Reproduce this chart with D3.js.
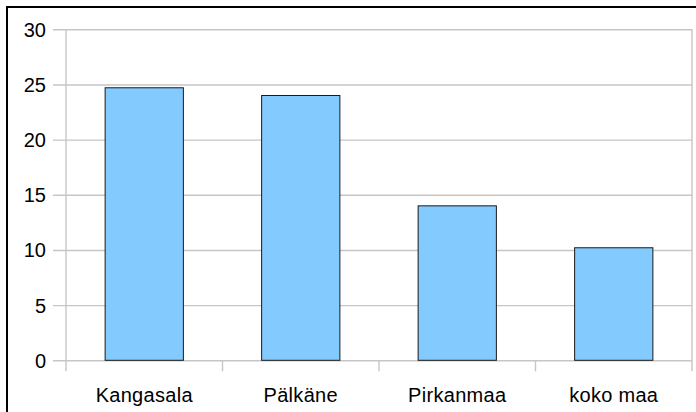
<!DOCTYPE html>
<html>
<head>
<meta charset="utf-8">
<script src="https://cdn.jsdelivr.net/npm/d3@7"></script>
<style>
  html, body { margin: 0; padding: 0; background: #fff; }
  svg { display: block; font-family: "Liberation Sans", Arial, sans-serif; }
</style>
</head>
<body>
<svg id="chart" width="696" height="412"></svg>
<script>
// Data
const categories = ["Kangasala", "Pälkäne", "Pirkanmaa", "koko maa"];
const values = [24.7, 24.0, 14.0, 10.2];
const yTicks = [0, 5, 10, 15, 20, 25, 30];

const svg = d3.select("#chart");

// Frame (runs off the right and bottom edge)
svg.append("rect")
  .attr("x", 7).attr("y", 7)
  .attr("width", 720).attr("height", 440)
  .attr("fill", "none").attr("stroke", "#000").attr("stroke-width", 2);

const plotLeft = 66, plotRight = 692, plotTop = 29.3, plotBottom = 360.3;

const x = d3.scaleBand().domain(categories).range([plotLeft, plotRight]).paddingInner(0).paddingOuter(0);
const y = d3.scaleLinear().domain([0, 30]).range([plotBottom, plotTop]);

const gridColor = "#c6c6c6";

// Horizontal gridlines, extended left as tick marks
const yAxis = d3.axisLeft(y).tickValues(yTicks).tickSize(plotRight - plotLeft + 13).tickFormat(d => d);
const gy = svg.append("g").attr("transform", `translate(${plotRight},0)`).call(yAxis);
gy.select(".domain").remove();
gy.selectAll(".tick line").attr("stroke", gridColor).attr("stroke-width", 1.4);
gy.selectAll(".tick text")
  .attr("x", -(plotRight - 46)).attr("dy", "0.35em")
  .attr("fill", "#000").style("font-size", "20px")
  .style("font-family", "'Liberation Sans', Arial, sans-serif");

// Vertical plot edges
svg.append("line").attr("x1", plotLeft).attr("x2", plotLeft).attr("y1", plotTop).attr("y2", plotBottom)
  .attr("stroke", gridColor).attr("stroke-width", 1.4);
svg.append("line").attr("x1", plotRight).attr("x2", plotRight).attr("y1", plotTop).attr("y2", plotBottom)
  .attr("stroke", gridColor).attr("stroke-width", 1.4);

// Category separators below the axis
const bounds = categories.map(c => x(c)).concat([plotRight]);
svg.selectAll("line.sep").data(bounds).enter().append("line")
  .attr("class", "sep")
  .attr("x1", d => d).attr("x2", d => d)
  .attr("y1", plotBottom).attr("y2", plotBottom + 11)
  .attr("stroke", gridColor).attr("stroke-width", 1.4);

// Bars
const bw = x.bandwidth() * 0.5;
svg.selectAll("rect.bar").data(values).enter().append("rect")
  .attr("class", "bar")
  .attr("x", (d, i) => x(categories[i]) + (x.bandwidth() - bw) / 2)
  .attr("y", d => y(d))
  .attr("width", bw)
  .attr("height", d => y(0) - y(d))
  .attr("fill", "#83caff")
  .attr("stroke", "#1a1a1a").attr("stroke-width", 1);

// Category labels
svg.selectAll("text.cat").data(categories).enter().append("text")
  .attr("class", "cat")
  .attr("x", d => x(d) + x.bandwidth() / 2)
  .attr("y", 401.5)
  .attr("text-anchor", "middle")
  .style("font-size", "20px")
  .style("letter-spacing", "0.3px")
  .attr("fill", "#000")
  .text(d => d);
</script>
</body>
</html>
